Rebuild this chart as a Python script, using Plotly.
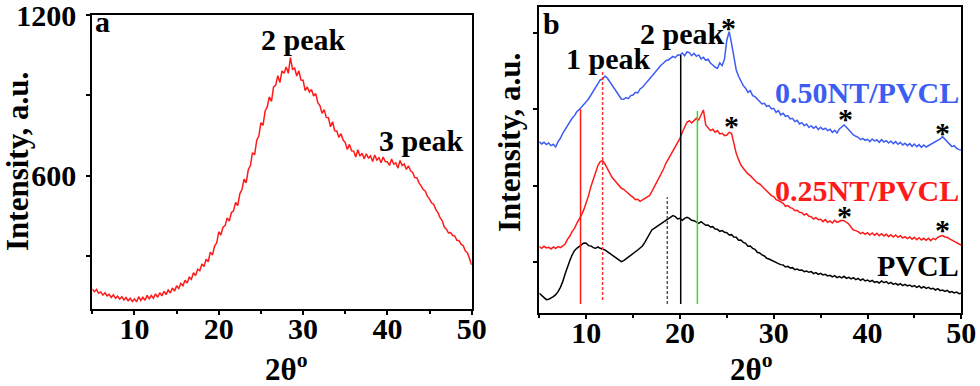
import numpy as np
import plotly.graph_objects as go

# 2-theta scan grid (degrees), 0.25 deg step
two_theta = np.arange(5.0, 50.0001, 0.25)

# Panel a: intensity (counts)
intensity_a = [
    176, 166, 174, 160, 165, 153, 162, 150, 156, 144, 154, 141, 149, 138, 147, 135,
    144, 132, 141, 129, 139, 128, 147, 133, 145, 134, 152, 139, 152, 141, 158, 145,
    162, 150, 167, 155, 172, 161, 180, 168, 188, 178, 197, 188, 209, 198, 220, 212,
    237, 226, 250, 244, 270, 260, 287, 278, 314, 303, 337, 348, 390, 378, 407, 413,
    442, 430, 462, 468, 500, 488, 532, 548, 587, 573, 622, 638, 686, 678, 732, 748,
    798, 788, 842, 858, 895, 878, 932, 938, 974, 948, 992, 983, 1007, 983, 1042, 998,
    1002, 973, 992, 958, 957, 918, 932, 913, 922, 898, 907, 873, 862, 833, 847, 818,
    817, 783, 802, 768, 767, 743, 757, 733, 724, 698, 717, 693, 692, 670, 697, 673,
    684, 663, 682, 666, 674, 653, 677, 658, 667, 648, 670, 653, 652, 638, 662, 643,
    648, 628, 657, 638, 644, 623, 637, 618, 612, 593, 592, 573, 562, 548, 542, 523,
    512, 498, 492, 473, 462, 443, 432, 408, 400, 386, 387, 376, 374, 358, 357, 343,
    338, 318, 312, 288, 266,
]

# Panel b: stacked patterns (arbitrary units, offsets included)
int_050 = [
    512, 505, 510, 503, 508, 500, 504, 496, 512, 522, 537, 548, 562, 570, 582, 590,
    602, 608, 617, 625, 632, 640, 652, 662, 677, 685, 697, 700, 709, 703, 692, 684,
    672, 660, 647, 640, 639, 644, 641, 650, 652, 660, 658, 670, 675, 682, 692, 700,
    709, 716, 727, 734, 742, 748, 755, 757, 762, 768, 764, 772, 772, 778, 770, 781,
    779, 770, 777, 768, 772, 760, 765, 756, 759, 748, 742, 735, 732, 748, 740, 760,
    817, 842, 807, 765, 727, 708, 692, 680, 672, 660, 665, 650, 647, 640, 635, 625,
    627, 618, 620, 610, 612, 600, 605, 592, 597, 588, 590, 580, 582, 572, 576, 565,
    569, 560, 565, 555, 559, 552, 558, 548, 555, 548, 552, 545, 549, 540, 546, 538,
    550, 556, 562, 555, 547, 538, 532, 528, 525, 518, 522, 516, 519, 512, 520, 514,
    517, 510, 518, 511, 515, 508, 514, 506, 512, 504, 510, 502, 507, 500, 506, 498,
    505, 497, 503, 495, 502, 496, 500, 504, 507, 510, 515, 520, 527, 520, 512, 505,
    497, 500, 492, 488, 487,
]
int_025 = [
    197, 192, 198, 193, 195, 190, 196, 192, 197, 194, 199, 205, 219, 228, 242, 252,
    267, 278, 292, 308, 327, 350, 377, 400, 422, 440, 452, 455, 445, 432, 417, 405,
    397, 388, 382, 372, 369, 362, 357, 350, 345, 338, 339, 333, 337, 342, 345, 350,
    362, 375, 392, 404, 417, 430, 447, 460, 472, 485, 497, 510, 522, 540, 557, 570,
    575, 568, 575, 582, 577, 592, 607, 562, 552, 545, 549, 540, 545, 535, 537, 530,
    532, 540, 537, 505, 477, 458, 442, 432, 422, 415, 410, 402, 397, 388, 385, 378,
    372, 362, 358, 350, 347, 338, 335, 330, 327, 318, 320, 314, 312, 305, 306, 300,
    299, 292, 296, 288, 287, 280, 284, 278, 279, 272, 278, 270, 274, 268, 276, 270,
    272, 276, 275, 270, 265, 255, 247, 245, 242, 236, 240, 234, 239, 232, 238, 231,
    237, 230, 236, 229, 234, 227, 233, 226, 232, 225, 230, 223, 227, 221, 226, 219,
    225, 218, 224, 217, 222, 216, 222, 215, 222, 218, 225, 228, 230, 226, 225, 220,
    217, 212, 209, 205, 202,
]
int_pvcl = [
    57, 50, 42, 38, 39, 42, 47, 53, 62, 75, 92, 115, 137, 155, 172, 185,
    192, 198, 202, 208, 207, 200, 199, 194, 192, 196, 192, 190, 187, 182, 177, 172,
    167, 162, 157, 152, 155, 160, 165, 170, 175, 180, 187, 193, 199, 210, 222, 236,
    247, 252, 257, 262, 267, 272, 277, 282, 285, 290, 287, 280, 282, 276, 282, 285,
    282, 276, 275, 270, 267, 272, 267, 261, 262, 256, 257, 250, 249, 243, 245, 240,
    239, 232, 233, 226, 225, 216, 217, 210, 207, 198, 199, 192, 189, 180, 178, 172,
    169, 162, 160, 156, 154, 148, 146, 143, 142, 136, 138, 133, 134, 128, 130, 126,
    127, 122, 124, 120, 122, 116, 119, 114, 117, 112, 114, 109, 111, 106, 110, 104,
    107, 103, 108, 102, 105, 100, 104, 98, 102, 96, 100, 94, 97, 92, 96, 90,
    92, 88, 94, 89, 92, 86, 90, 84, 87, 82, 86, 80, 84, 79, 82, 77,
    80, 75, 79, 73, 77, 72, 75, 70, 72, 67, 71, 65, 67, 63, 66, 60,
    62, 58, 61, 56, 57,
]

# Peak marker lines in panel b
peak_line_x = [9.4, 11.75, 18.65, 20.08, 21.86]
peak_line_bottom = [25, 37, 25, 25, 25]
peak_line_top = [609, 724, 345, 772, 604]
peak_line_color = ["#ff1a1a", "#ff3030", "#555555", "#000000", "#33dd22"]
peak_line_dash = ["solid", "3px,2px", "3px,2px", "solid", "solid"]

# Asterisk positions (panel b)
star_x = [25.17, 25.46, 37.64, 47.97, 37.53, 47.97]
star_y = [855, 560, 580, 540, 290, 247]

# Tick settings
a_yticks = [600, 1200]
b_yticks = [150, 380, 609, 837]
x_ticks = [10, 20, 30, 40, 50]

RED = "#ff1a1a"
BLUE = "#3d5cf2"
FONT = "Liberation Serif"
FS = 30

fig = go.Figure()
fig.add_trace(go.Scatter(x=two_theta, y=intensity_a, mode="lines",
                         line=dict(color=RED, width=1.5), xaxis="x", yaxis="y"))
fig.add_trace(go.Scatter(x=two_theta, y=int_pvcl, mode="lines",
                         line=dict(color="black", width=1.5), xaxis="x2", yaxis="y2"))
fig.add_trace(go.Scatter(x=two_theta, y=int_025, mode="lines",
                         line=dict(color=RED, width=1.5), xaxis="x2", yaxis="y2"))
fig.add_trace(go.Scatter(x=two_theta, y=int_050, mode="lines",
                         line=dict(color=BLUE, width=1.5), xaxis="x2", yaxis="y2"))
for xv, yb, yt, c, d in zip(peak_line_x, peak_line_bottom, peak_line_top,
                             peak_line_color, peak_line_dash):
    fig.add_trace(go.Scatter(x=[xv, xv], y=[yb, yt], mode="lines",
                             line=dict(color=c, width=1.5, dash=d),
                             xaxis="x2", yaxis="y2"))

axis_common = dict(showline=True, mirror=True, linecolor="black", linewidth=2,
                   ticks="outside", tickcolor="black", tickwidth=1.5, ticklen=4,
                   showgrid=False, zeroline=False, automargin=False,
                   ticklabeloverflow="allow",
                   tickfont=dict(family=FONT, size=FS, color="black", weight="bold"))
minor_x = dict(ticks="outside", dtick=5, tick0=5, ticklen=3,
               tickcolor="black", tickwidth=1.5, showgrid=False)

fig.update_layout(
    width=980, height=386,
    margin=dict(l=0, r=0, t=0, b=0, autoexpand=False),
    paper_bgcolor="white", plot_bgcolor="white",
    showlegend=False,
    font=dict(family=FONT, size=FS, color="black", weight="bold"),
    xaxis=dict(domain=[0.0942, 0.4813], range=[5, 50], tickvals=x_ticks,
               minor=minor_x, anchor="y", ticklabelstandoff=-12, **axis_common),
    yaxis=dict(domain=[0.1987, 0.9604], range=[100, 1200], tickvals=a_yticks,
               minor=dict(ticks="outside", dtick=300, tick0=0, ticklen=4,
                          tickcolor="black", tickwidth=1.5, showgrid=False),
               anchor="x", ticklabelstandoff=4, **axis_common),
    xaxis2=dict(domain=[0.5503, 0.9809], range=[5, 50], tickvals=x_ticks,
                minor=minor_x, anchor="y2", ticklabelstandoff=-12, **axis_common),
    yaxis2=dict(domain=[0.1883, 0.9811], range=[-3, 915], tickvals=b_yticks,
                showticklabels=False, anchor="x2", **axis_common),
)

TFS = 31
ann = []
# Axis titles
ann.append(dict(text="Intensity, a.u.", x=18/980, y=1-162/386, xref="paper", yref="paper",
                textangle=-90, showarrow=False, xanchor="center", yanchor="middle",
                font=dict(size=TFS)))
ann.append(dict(text="Intensity, a.u.", x=509/980, y=1-143/386, xref="paper", yref="paper",
                textangle=-90, showarrow=False, xanchor="center", yanchor="middle",
                font=dict(size=TFS)))
ann.append(dict(text="2θ<sup>o</sup>", x=286/980, y=1-367/386, xref="paper", yref="paper",
                showarrow=False, xanchor="center", yanchor="middle", font=dict(size=TFS)))
ann.append(dict(text="2θ<sup>o</sup>", x=751/980, y=1-367/386, xref="paper", yref="paper",
                showarrow=False, xanchor="center", yanchor="middle", font=dict(size=TFS)))
# Panel a labels
ann.append(dict(text="a", x=5.1, y=1175, xref="x", yref="y", showarrow=False,
                xanchor="left", yanchor="middle"))
ann.append(dict(text="2 peak", x=30.08, y=1109, xref="x", yref="y", showarrow=False,
                xanchor="center", yanchor="middle"))
ann.append(dict(text="3 peak", x=44.07, y=733, xref="x", yref="y", showarrow=False,
                xanchor="center", yanchor="middle"))
# Panel b labels
ann.append(dict(text="b", x=5.2, y=867, xref="x2", yref="y2", showarrow=False,
                xanchor="left", yanchor="middle"))
ann.append(dict(text="1 peak", x=12.35, y=762, xref="x2", yref="y2", showarrow=False,
                xanchor="center", yanchor="middle"))
ann.append(dict(text="2 peak", x=20.28, y=836, xref="x2", yref="y2", showarrow=False,
                xanchor="center", yanchor="middle"))
ann.append(dict(text="0.50NT/PVCL", x=50, y=659, xref="x2", yref="y2", showarrow=False,
                xanchor="right", yanchor="middle", font=dict(color=BLUE)))
ann.append(dict(text="0.25NT/PVCL", x=50, y=364, xref="x2", yref="y2", showarrow=False,
                xanchor="right", yanchor="middle", font=dict(color=RED)))
ann.append(dict(text="PVCL", x=50, y=140, xref="x2", yref="y2", showarrow=False,
                xanchor="right", yanchor="middle", font=dict(color="black")))
for sx, sy in zip(star_x, star_y):
    ann.append(dict(text="*", x=sx, y=sy, xref="x2", yref="y2", showarrow=False,
                    xanchor="center", yanchor="middle"))
fig.update_layout(annotations=ann)

fig.write_html("out.html", config={"displayModeBar": False},
               post_script="document.body.style.margin='0';")
